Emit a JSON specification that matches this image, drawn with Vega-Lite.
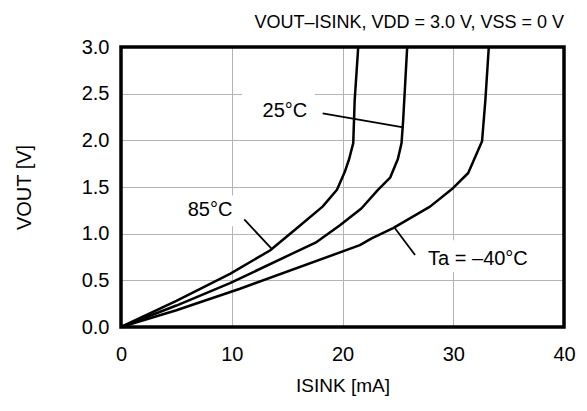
{
  "$schema": "https://vega.github.io/schema/vega-lite/v6.json",
  "width": 443,
  "height": 280,
  "autosize": "none",
  "padding": {"left": 121, "top": 47, "right": 23, "bottom": 84},
  "background": "white",
  "config": {
    "font": "Liberation Sans",
    "view": {"stroke": null},
    "axis": {
      "domain": false,
      "ticks": false,
      "grid": true,
      "gridColor": "#b4b4b4",
      "gridWidth": 1,
      "labelFont": "Liberation Sans",
      "labelFontSize": 20,
      "labelColor": "black",
      "titleFont": "Liberation Sans",
      "titleFontSize": 20,
      "titleFontWeight": "normal",
      "titleColor": "black"
    }
  },
  "title": {
    "text": "VOUT–ISINK, VDD = 3.0 V, VSS = 0 V",
    "anchor": "end",
    "frame": "group",
    "fontSize": 18,
    "fontWeight": "normal",
    "font": "Liberation Sans",
    "color": "black",
    "offset": 5
  },
  "datasets": {
    "curves": [
      {"T": "85", "I": 0, "V": 0},
      {"T": "85", "I": 5, "V": 0.28},
      {"T": "85", "I": 9.84, "V": 0.57},
      {"T": "85", "I": 13.45, "V": 0.82},
      {"T": "85", "I": 15.9, "V": 1.06},
      {"T": "85", "I": 18.2, "V": 1.29},
      {"T": "85", "I": 19.5, "V": 1.47},
      {"T": "85", "I": 20.2, "V": 1.66},
      {"T": "85", "I": 20.6, "V": 1.8},
      {"T": "85", "I": 20.97, "V": 1.97},
      {"T": "85", "I": 21.1, "V": 2.43},
      {"T": "85", "I": 21.42, "V": 3.0},
      {"T": "25", "I": 0, "V": 0},
      {"T": "25", "I": 5, "V": 0.23},
      {"T": "25", "I": 9.84, "V": 0.47},
      {"T": "25", "I": 17.66, "V": 0.91},
      {"T": "25", "I": 19.77, "V": 1.09},
      {"T": "25", "I": 21.7, "V": 1.27},
      {"T": "25", "I": 23.2, "V": 1.47},
      {"T": "25", "I": 24.3, "V": 1.6},
      {"T": "25", "I": 25.0, "V": 1.8},
      {"T": "25", "I": 25.33, "V": 1.97},
      {"T": "25", "I": 25.48, "V": 2.22},
      {"T": "25", "I": 25.84, "V": 3.0},
      {"T": "-40", "I": 0, "V": 0},
      {"T": "-40", "I": 5, "V": 0.18},
      {"T": "-40", "I": 10.74, "V": 0.41},
      {"T": "-40", "I": 21.57, "V": 0.877},
      {"T": "-40", "I": 22.63, "V": 0.95},
      {"T": "-40", "I": 24.57, "V": 1.06},
      {"T": "-40", "I": 27.9, "V": 1.29},
      {"T": "-40", "I": 30.0, "V": 1.49},
      {"T": "-40", "I": 31.35, "V": 1.65},
      {"T": "-40", "I": 32.6, "V": 1.99},
      {"T": "-40", "I": 32.9, "V": 2.43},
      {"T": "-40", "I": 33.21, "V": 3.0}
    ],
    "labels": [
      {"label": "25°C", "I": 14.8, "V": 2.314, "I1": 10.93, "I2": 17.5, "V1": 2.53, "V2": 2.13, "LI1": 18.21, "LV1": 2.29, "LI2": 25.49, "LV2": 2.14},
      {"label": "85°C", "I": 8.04, "V": 1.254, "I1": 5.33, "I2": 10.49, "V1": 1.41, "V2": 1.08, "LI1": 11.13, "LV1": 1.154, "LI2": 13.61, "LV2": 0.836},
      {"label": "Ta = –40°C", "I": 32.23, "V": 0.729, "I1": 26.28, "I2": 38.28, "V1": 0.93, "V2": 0.59, "LI1": 24.74, "LV1": 1.058, "LI2": 26.55, "LV2": 0.771}
    ],
    "frame": [{"I1": 0, "I2": 40, "V1": 0, "V2": 3}]
  },
  "layer": [
    {
      "data": {"name": "labels"},
      "mark": {"type": "rect", "fill": "white"},
      "encoding": {
        "x": {"field": "I1", "type": "quantitative", "scale": {"domain": [0, 40], "nice": false}, "axis": {"values": [0, 10, 20, 30, 40], "title": "ISINK [mA]", "titleFontSize": 19, "labelPadding": 17, "titlePadding": 12, "labelFlush": false}},
        "x2": {"field": "I2"},
        "y": {"field": "V1", "type": "quantitative", "scale": {"domain": [0, 3], "nice": false}, "axis": {"values": [0, 0.5, 1, 1.5, 2, 2.5, 3], "format": ".1f", "title": "VOUT [V]", "labelPadding": 12, "titlePadding": 47, "labelFlush": false}},
        "y2": {"field": "V2"}
      }
    },
    {
      "data": {"name": "curves"},
      "mark": {"type": "line", "color": "black", "strokeWidth": 2.5, "strokeJoin": "round"},
      "encoding": {
        "x": {"field": "I", "type": "quantitative"},
        "y": {"field": "V", "type": "quantitative"},
        "detail": {"field": "T"},
        "order": {"field": "V", "type": "quantitative"}
      }
    },
    {
      "data": {"name": "labels"},
      "mark": {"type": "rule", "color": "black", "strokeWidth": 1.8},
      "encoding": {
        "x": {"field": "LI1", "type": "quantitative"},
        "y": {"field": "LV1", "type": "quantitative"},
        "x2": {"field": "LI2"},
        "y2": {"field": "LV2"}
      }
    },
    {
      "data": {"name": "labels"},
      "mark": {"type": "text", "fontSize": 20, "color": "black", "font": "Liberation Sans"},
      "encoding": {
        "x": {"field": "I", "type": "quantitative"},
        "y": {"field": "V", "type": "quantitative"},
        "text": {"field": "label"}
      }
    },
    {
      "data": {"name": "frame"},
      "mark": {"type": "rect", "fill": null, "stroke": "black", "strokeWidth": 3.5},
      "encoding": {
        "x": {"field": "I1", "type": "quantitative"},
        "x2": {"field": "I2"},
        "y": {"field": "V1", "type": "quantitative"},
        "y2": {"field": "V2"}
      }
    }
  ]
}
